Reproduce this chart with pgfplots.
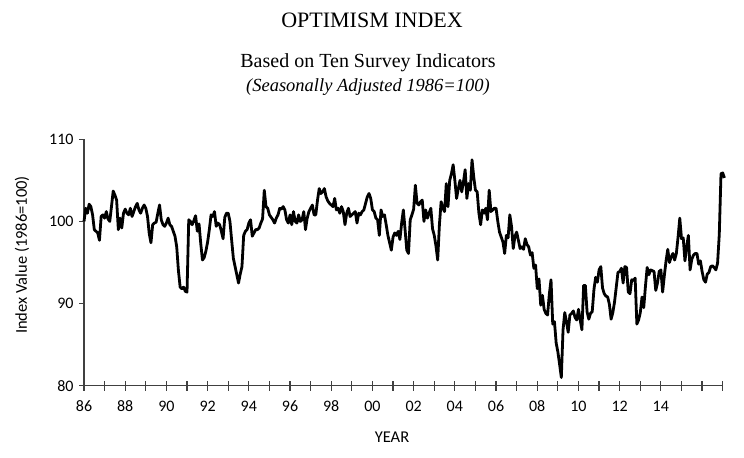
\documentclass[border=0pt]{standalone}
\usepackage{pgfplots}
\pgfplotsset{compat=1.18}
\usepackage{fontspec}
\setmainfont{Carlito}
\newfontfamily\tnr{Liberation Serif}
\begin{document}
\begin{tikzpicture}[x=1bp,y=1bp]
\path[use as bounding box] (0,0) rectangle (744,458);
\begin{axis}[
  at={(84bp,72.3bp)}, anchor=south west,
  width=638.7bp, height=246.4bp, scale only axis,
  xmin=1986, xmax=2017, ymin=80, ymax=110,
  axis x line=bottom, axis y line=left,
  axis line style={-, line width=1.3bp, black!75},
  xtick={1986,...,2017},
  xticklabels={86,,88,,90,,92,,94,,96,,98,,00,,02,,04,,06,,08,,10,,12,,14,,,},
  xtick align=center,
  major tick length=10bp,
  tick style={line width=1.3bp, black!75},
  ytick=\empty,
  extra y ticks={80,90,100,110},
  extra y tick style={major tick length=5bp, tick align=outside},
  /pgf/number format/assume math mode=true,
  tick label style={font=\fontsize{16bp}{19bp}\selectfont, black},
  xticklabel style={yshift=-6bp, text height=11bp, text depth=0pt},
  yticklabel style={xshift=-2bp},
  clip=false,
]
\addplot[black, line width=2.8bp, line join=round] table[row sep=\\, header=false, x expr=1986+\coordindex/12, y index=0] {
100.0\\101.6\\101.0\\102.1\\101.8\\100.8\\99.0\\98.8\\98.6\\97.7\\100.6\\100.8\\
100.4\\101.2\\100.3\\100.0\\101.8\\103.7\\103.2\\102.6\\99.0\\100.4\\99.2\\101.0\\
101.5\\101.0\\100.8\\101.6\\100.6\\101.2\\101.8\\102.2\\101.4\\101.0\\101.6\\102.0\\
101.6\\100.6\\98.5\\97.4\\99.6\\99.8\\99.9\\101.0\\102.0\\100.2\\99.6\\99.4\\
99.8\\100.4\\99.6\\99.4\\98.8\\98.2\\96.9\\94.0\\92.0\\91.8\\92.0\\91.5\\
91.4\\100.2\\100.0\\99.6\\100.1\\100.7\\98.8\\99.7\\97.3\\95.3\\95.6\\96.4\\
97.5\\99.0\\100.8\\100.6\\101.2\\99.4\\99.8\\99.6\\98.8\\97.9\\100.5\\101.0\\
101.0\\100.0\\97.7\\95.5\\94.5\\93.5\\92.5\\93.6\\94.5\\98.3\\98.8\\99.0\\
99.8\\100.2\\98.2\\98.6\\99.0\\99.0\\99.2\\99.8\\100.3\\103.8\\101.8\\101.6\\
100.8\\100.5\\100.2\\99.8\\100.4\\100.8\\101.6\\101.5\\101.8\\101.4\\100.2\\99.8\\
100.8\\99.6\\101.2\\100.0\\99.8\\100.8\\100.0\\100.2\\101.2\\99.0\\100.4\\101.2\\
101.6\\102.0\\100.8\\100.8\\102.6\\104.0\\103.4\\103.6\\104.0\\103.0\\102.5\\102.2\\
102.0\\101.8\\102.8\\101.4\\101.6\\101.0\\101.8\\101.2\\99.6\\101.0\\101.6\\100.6\\
100.8\\101.0\\101.2\\99.8\\101.0\\100.8\\101.2\\101.4\\102.2\\103.0\\103.4\\102.8\\
101.4\\101.2\\100.4\\100.2\\98.3\\101.4\\100.6\\100.8\\99.6\\98.3\\97.4\\96.5\\
98.1\\98.6\\98.3\\98.8\\97.8\\99.8\\101.4\\99.0\\96.5\\96.1\\100.2\\100.8\\
101.5\\104.4\\102.2\\102.0\\102.4\\102.6\\100.0\\101.4\\100.4\\101.0\\101.6\\99.1\\
98.3\\97.0\\95.3\\99.6\\102.4\\101.6\\101.2\\104.6\\101.8\\105.0\\105.8\\106.9\\
105.0\\102.8\\104.0\\105.0\\103.6\\104.8\\106.3\\102.8\\104.6\\103.8\\107.5\\105.4\\
103.8\\103.6\\101.0\\99.6\\101.4\\101.0\\101.6\\100.2\\103.8\\101.2\\101.4\\101.6\\
101.6\\100.0\\98.7\\98.1\\97.5\\96.1\\98.3\\98.0\\100.8\\99.4\\96.7\\98.2\\
98.7\\97.7\\96.7\\96.9\\96.6\\97.9\\97.2\\96.9\\95.9\\96.2\\94.3\\94.7\\
91.8\\93.0\\89.8\\91.0\\89.3\\88.8\\88.6\\91.1\\92.9\\87.5\\87.8\\85.2\\
84.1\\82.6\\81.0\\86.8\\88.9\\87.8\\86.5\\88.6\\88.8\\89.1\\88.3\\88.0\\
89.3\\88.0\\86.8\\92.2\\92.2\\89.0\\88.1\\88.8\\89.0\\91.7\\93.2\\92.6\\
94.1\\94.5\\91.9\\91.2\\90.9\\90.8\\89.9\\88.1\\88.9\\90.2\\92.0\\93.8\\
93.9\\94.3\\92.5\\94.5\\94.4\\91.4\\91.2\\92.9\\92.8\\93.1\\87.5\\88.0\\
88.9\\90.8\\89.5\\92.1\\94.4\\93.5\\94.1\\94.0\\93.9\\91.6\\92.5\\93.9\\
94.1\\91.4\\93.4\\95.2\\96.6\\95.0\\95.7\\96.1\\95.3\\96.1\\98.1\\100.4\\
97.9\\98.0\\95.2\\96.9\\98.3\\94.1\\95.4\\95.9\\96.1\\96.1\\94.8\\95.2\\
93.9\\92.9\\92.6\\93.6\\93.8\\94.5\\94.6\\94.4\\94.1\\94.9\\98.4\\105.8\\
105.9\\105.3\\
};
\end{axis}
\node[font=\tnr\fontsize{22bp}{26bp}\selectfont] at (372,438) {OPTIMISM INDEX};
\node[font=\tnr\fontsize{20bp}{24bp}\selectfont] at (368,395) {Based on Ten Survey Indicators};
\node[font=\tnr\itshape\fontsize{18.5bp}{22bp}\selectfont] at (368,371) {(Seasonally Adjusted 1986=100)};
\node[font=\fontsize{16.5bp}{20bp}\selectfont] at (392,21) {YEAR};
\node[rotate=90, font=\fontsize{16.5bp}{20bp}\selectfont] at (22,203) {Index Value (1986=100)};
\end{tikzpicture}
\end{document}
